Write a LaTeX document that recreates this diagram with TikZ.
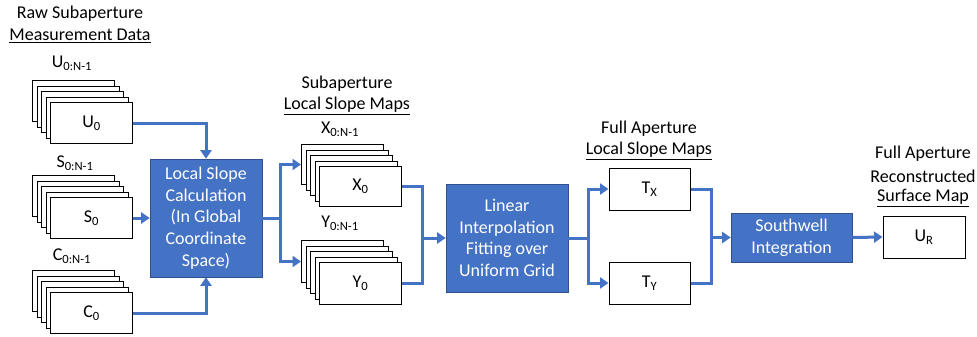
\documentclass[tikz,border=0pt]{standalone}
\usepackage{fontspec}
\setmainfont{Carlito}
\usetikzlibrary{arrows.meta}
\definecolor{blu}{HTML}{4472C4}
\definecolor{bluedge}{HTML}{2F528F}
\newcommand\cardstack[5]{%
  \foreach \k in {4,3,2,1} {
    \node[card, minimum height=#4] (#1b\k) at ({#2-4.5*\k},{#3-5.5*\k}) {};
  }
  \node[card, minimum height=#4] (#1) at (#2,#3) {#5};
}
\begin{document}
\begin{tikzpicture}[x=1pt,y=-1pt,
  card/.style={draw=black, fill=white, line width=1pt, minimum width=82pt, inner sep=0pt, anchor=north west, font=\fontsize{18}{22}\selectfont},
  wbox/.style={draw=black, fill=white, line width=1pt, inner sep=0pt, font=\fontsize{18}{22}\selectfont},
  bluebox/.style={draw=bluedge, fill=blu, text=white, line width=0.6pt, align=center, inner sep=0pt, font=\fontsize{18}{21.7}\selectfont},
  lbl/.style={font=\fontsize{18}{22}\selectfont, inner sep=0pt},
  flow/.style={draw=blu, line width=3pt},
  arr/.style={flow, -{Triangle[length=8.5pt,width=11pt]}},
]
\useasboundingbox (0,0) rectangle (977,337);

% titles
\node[lbl] (t1a) at (80,14) {Raw Subaperture};
\node[lbl] (t1b) at (80,36) {\underline{Measurement Data}};
\node[lbl] (t2a) at (347,84) {Subaperture};
\node[lbl] (t2b) at (347,106) {\underline{Local Slope Maps}};
\node[lbl] (t3a) at (649,129) {Full Aperture};
\node[lbl] (t3b) at (649,151) {\underline{Local Slope Maps}};
\node[lbl] (t4a) at (923,154) {Full Aperture};
\node[lbl] (t4b) at (923,176) {Reconstructed};
\node[lbl] (t4c) at (923,198) {\underline{Surface Map}};

% stack labels
\node[lbl] (lu) at (72,63) {U\textsubscript{0:N-1}};
\node[lbl] (ls) at (75,163) {S\textsubscript{0:N-1}};
\node[lbl] (lc) at (72,256) {C\textsubscript{0:N-1}};
\node[lbl] (lx) at (340,129) {X\textsubscript{0:N-1}};
\node[lbl] (ly) at (340,223) {Y\textsubscript{0:N-1}};

% stacks
\cardstack{U0}{50}{102}{41pt}{U\textsubscript{0}}
\cardstack{S0}{50}{197}{41pt}{S\textsubscript{0}}
\cardstack{C0}{50}{292}{41pt}{C\textsubscript{0}}
\cardstack{X0}{319}{166}{40pt}{X\textsubscript{0}}
\cardstack{Y0}{319}{262}{42pt}{Y\textsubscript{0}}

% process boxes
\node[bluebox, minimum width=112pt, minimum height=118pt] (lsc) at (206,218)
  {Local Slope\\Calculation\\(In Global\\Coordinate\\Space)};
\node[bluebox, minimum width=122pt, minimum height=108pt] (lin) at (507,238)
  {Linear\\Interpolation\\Fitting over\\Uniform Grid};
\node[bluebox, minimum width=121pt, minimum height=49pt] (sw) at (791.5,237.5)
  {Southwell\\Integration};

\node[wbox, minimum width=81pt, minimum height=42pt] (tx) at (649.5,189) {T\textsubscript{X}};
\node[wbox, minimum width=81pt, minimum height=42pt] (ty) at (649.5,283) {T\textsubscript{Y}};
\node[wbox, minimum width=82pt, minimum height=42pt] (ur) at (924,237) {U\textsubscript{R}};

% connectors
\draw[arr] (U0.east) -| (lsc.north);
\draw[arr] (S0.east) -- (S0.east -| lsc.west);
\draw[arr] (C0.east) -| (lsc.south);

\coordinate (b1) at (280,218);
\draw[flow] (lsc.east) -- (b1);
\draw[arr] (b1) |- (X0b4.west);
\draw[arr] (b1) |- (Y0b4.west);

\coordinate (m1) at (422,238);
\draw[flow] (X0.east) -| (m1);
\draw[flow] (Y0.east) -| (m1);
\draw[arr] (m1) -- (lin.west);

\coordinate (b2) at (588,238);
\draw[flow] (lin.east) -- (b2);
\draw[arr] (b2) |- (tx.west);
\draw[arr] (b2) |- (ty.west);

\coordinate (m2) at (711,237.5);
\draw[flow] (tx.east) -| (m2);
\draw[flow] (ty.east) -| (m2);
\draw[arr] (m2) -- (sw.west);

\draw[arr] (sw.east) -- (ur.west);
\end{tikzpicture}
\end{document}
